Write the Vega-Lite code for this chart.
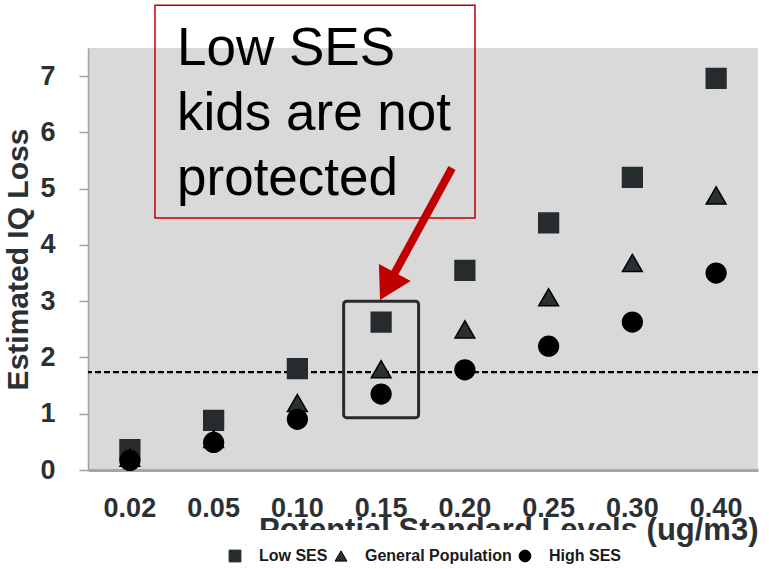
{
  "$schema": "https://vega.github.io/schema/vega-lite/v6.json",
  "width": 670,
  "height": 422,
  "autosize": "none",
  "padding": {"left": 88, "top": 48, "right": 11, "bottom": 99},
  "background": "white",
  "config": {
    "font": "Liberation Sans",
    "view": {"stroke": null, "fill": "#d9d9d9"},
    "axis": {"grid": false},
    "legend": {
      "fillColor": "#ffffff",
      "padding": 18,
      "symbolSize": 140,
      "symbolStrokeWidth": 1,
      "labelFont": "Liberation Sans",
      "labelFontSize": 16,
      "labelFontWeight": "bold",
      "labelColor": "#1a1a1a",
      "labelOffset": 16,
      "columnPadding": 5
    }
  },
  "datasets": {
    "iq": [
      {"level": "0.02", "group": "Low SES", "loss": 0.36},
      {"level": "0.05", "group": "Low SES", "loss": 0.88},
      {"level": "0.10", "group": "Low SES", "loss": 1.8},
      {"level": "0.15", "group": "Low SES", "loss": 2.63},
      {"level": "0.20", "group": "Low SES", "loss": 3.55},
      {"level": "0.25", "group": "Low SES", "loss": 4.39},
      {"level": "0.30", "group": "Low SES", "loss": 5.2},
      {"level": "0.40", "group": "Low SES", "loss": 6.96},
      {"level": "0.02", "group": "General Population", "loss": 0.22},
      {"level": "0.05", "group": "General Population", "loss": 0.55},
      {"level": "0.10", "group": "General Population", "loss": 1.19},
      {"level": "0.15", "group": "General Population", "loss": 1.79},
      {"level": "0.20", "group": "General Population", "loss": 2.5},
      {"level": "0.25", "group": "General Population", "loss": 3.07},
      {"level": "0.30", "group": "General Population", "loss": 3.68},
      {"level": "0.40", "group": "General Population", "loss": 4.88},
      {"level": "0.02", "group": "High SES", "loss": 0.17},
      {"level": "0.05", "group": "High SES", "loss": 0.49},
      {"level": "0.10", "group": "High SES", "loss": 0.9},
      {"level": "0.15", "group": "High SES", "loss": 1.35},
      {"level": "0.20", "group": "High SES", "loss": 1.78},
      {"level": "0.25", "group": "High SES", "loss": 2.2},
      {"level": "0.30", "group": "High SES", "loss": 2.63},
      {"level": "0.40", "group": "High SES", "loss": 3.5}
    ]
  },
  "resolve": {"scale": {"x": "independent"}, "axis": {"x": "independent"}},
  "layer": [
    {
      "layer": [
        {
          "data": {"values": [{}]},
          "mark": {"type": "rule", "strokeDash": [6, 3], "strokeWidth": 2.2, "color": "#000000"},
          "encoding": {
            "y": {"datum": 1.74, "type": "quantitative", "scale": {"domain": [0, 7.5], "nice": false}}
          }
        },
        {
          "data": {"name": "iq"},
          "mark": {"type": "point", "filled": true, "size": 390, "strokeWidth": 1.5, "opacity": 1},
          "encoding": {
            "x": {
              "field": "level",
              "type": "ordinal",
              "sort": null,
              "scale": {"domain": ["0.02", "0.05", "0.10", "0.15", "0.20", "0.25", "0.30", "0.40"], "paddingInner": 0, "paddingOuter": 0},
              "axis": {
                "title": "Potential Standard Levels (ug/m3)",
                "labelAngle": 0,
                "ticks": false,
                "tickSize": 0,
                "domainColor": "#a6a6a6",
                "domainWidth": 3,
                "labelFontSize": 27,
                "labelFontWeight": "bold",
                "labelColor": "#2b3033",
                "labelPadding": 25,
                "titleFontSize": 31,
                "titleFontWeight": "bold",
                "titleColor": "#2b3033",
                "titleAnchor": "end",
                "titlePadding": -6
              }
            },
            "y": {
              "field": "loss",
              "type": "quantitative",
              "scale": {"domain": [0, 7.5], "nice": false},
              "axis": {
                "title": "Estimated IQ Loss",
                "values": [0, 1, 2, 3, 4, 5, 6, 7],
                "format": "d",
                "domainColor": "#a0a0a0",
                "domainWidth": 1.5,
                "tickColor": "#a0a0a0",
                "tickWidth": 1.5,
                "tickSize": 9,
                "labelFontSize": 27,
                "labelFontWeight": "bold",
                "labelColor": "#2b3033",
                "labelPadding": 24,
                "titleFontSize": 30,
                "titleFontWeight": "bold",
                "titleColor": "#2b3033",
                "titlePadding": 6
              }
            },
            "shape": {
              "field": "group",
              "type": "nominal",
              "scale": {"domain": ["Low SES", "General Population", "High SES"], "range": ["square", "triangle-up", "circle"]},
              "legend": {"title": null, "orient": "none", "direction": "horizontal", "legendX": 121, "legendY": 482}
            },
            "color": {
              "field": "group",
              "type": "nominal",
              "scale": {"domain": ["Low SES", "General Population", "High SES"], "range": ["#262b2e", "#2a3134", "#000000"]},
              "legend": {"title": null, "orient": "none", "direction": "horizontal", "legendX": 121, "legendY": 482}
            },
            "stroke": {
              "field": "group",
              "type": "nominal",
              "scale": {"domain": ["Low SES", "General Population", "High SES"], "range": ["#262b2e", "#000000", "#000000"]},
              "legend": {"title": null, "orient": "none", "direction": "horizontal", "legendX": 121, "legendY": 482}
            }
          }
        },
        {
          "data": {"values": [{}]},
          "mark": {"type": "bar", "width": {"band": 0.895}, "fill": "transparent", "stroke": "#262b2e", "strokeWidth": 3, "cornerRadius": 3},
          "encoding": {
            "x": {"datum": "0.15", "type": "ordinal"},
            "y": {"datum": 0.93, "type": "quantitative"},
            "y2": {"datum": 3.0}
          }
        }
      ]
    },
    {
      "data": {"values": [{}]},
      "layer": [
        {
          "mark": {"type": "rect", "fill": "transparent", "stroke": "#c00000", "strokeWidth": 1.5},
          "encoding": {
            "x": {"datum": 0.8, "type": "quantitative", "scale": {"domain": [0, 8], "nice": false, "zero": false}, "axis": null},
            "x2": {"datum": 4.621},
            "y": {"datum": 8.26, "type": "quantitative"},
            "y2": {"datum": 4.48}
          }
        },
        {
          "mark": {
            "type": "text",
            "text": ["Low SES", "kids are not", "protected"],
            "font": "Liberation Sans",
            "fontSize": 53,
            "lineHeight": 65,
            "align": "left",
            "baseline": "alphabetic",
            "color": "#000000"
          },
          "encoding": {
            "x": {"datum": 1.063, "type": "quantitative"},
            "y": {"datum": 7.2, "type": "quantitative"}
          }
        },
        {
          "mark": {"type": "rule", "color": "#c00000", "strokeWidth": 8, "strokeCap": "butt"},
          "encoding": {
            "x": {"datum": 4.346, "type": "quantitative"},
            "y": {"datum": 5.367, "type": "quantitative"},
            "x2": {"datum": 3.575},
            "y2": {"datum": 3.265}
          }
        },
        {
          "mark": {"type": "point", "shape": "triangle-up", "filled": true, "size": 1300, "angle": 208.3, "color": "#c00000", "opacity": 1},
          "encoding": {
            "x": {"datum": 3.575, "type": "quantitative"},
            "y": {"datum": 3.265, "type": "quantitative"}
          }
        }
      ]
    }
  ]
}
